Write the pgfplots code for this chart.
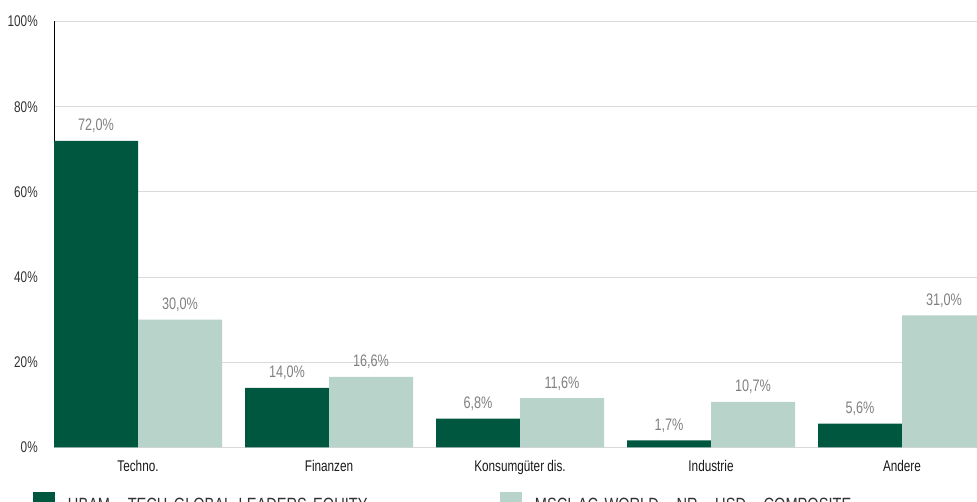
\documentclass[border=0pt]{standalone}
\usepackage{fontspec}
\setmainfont{Liberation Sans}[FakeStretch=0.76]
\usepackage{pgfplots}
\pgfplotsset{compat=1.18}
\definecolor{dark}{RGB}{0,87,63}
\definecolor{light}{RGB}{184,211,201}
\definecolor{gridc}{RGB}{217,217,217}
\definecolor{tickc}{RGB}{50,50,50}
\definecolor{valc}{RGB}{128,128,128}
\begin{document}
\begin{tikzpicture}
\useasboundingbox (0,0) rectangle (732.75pt,376.5pt);
\clip (0,0) rectangle (732.75pt,376.5pt);
\begin{axis}[
  at={(40.5pt,40.875pt)}, anchor=south west,
  scale only axis, width=692.25pt, height=319.5pt,
  ybar=0pt, bar width=63pt,
  xmin=-0.4398, xmax=4.3927, ymin=0, ymax=100,
  axis lines*=left, axis line style={-},
  x axis line style={draw=gridc, line width=0.75pt},
  y axis line style={draw=black, line width=0.75pt},
  ymajorgrids, grid style={draw=gridc, line width=0.75pt},
  major tick length=0pt,
  xtick={0,1,2,3,4},
  xticklabels={Techno.,Finanzen,Konsumgüter dis.,Industrie,Andere},
  ytick={0,20,40,60,80,100},
  yticklabels={0\%,20\%,40\%,60\%,80\%,100\%},
  /pgf/number format/assume math mode=true,
  tick label style={font=\fontsize{11.6}{13}\selectfont},
  xticklabel style={anchor=base, inner sep=0pt, yshift=-18pt, text=black!90},
  yticklabel style={anchor=east, inner sep=0pt, xshift=-12pt, text=tickc},
  nodes near coords={\pgfmathprintnumber[fixed,fixed zerofill,precision=1,use comma]{\pgfplotspointmeta}\%},
  every node near coord/.append style={font=\fontsize{12.5}{14}\selectfont, text=valc, anchor=base, inner sep=0pt, yshift=7.5pt},
  legend columns=2,
  legend style={at={(-0.02275,-0.104)}, anchor=north west, draw=none, fill=none,
    inner sep=0pt, outer sep=0pt, column sep=0pt,
    font=\fontsize{14.4}{17}\selectfont, text=tickc,
    nodes={inner sep=0pt, text width=324pt, align=left},
    /tikz/every odd column/.append style={column sep=9.75pt}},
  legend image code/.code={\fill[#1] (0pt,-5.76pt) rectangle (16.5pt,10.74pt);},
]
\addplot[draw=none, fill=dark] coordinates {(0,72.0) (1,14.0) (2,6.8) (3,1.7) (4,5.6)};
\addplot[draw=none, fill=light] coordinates {(0,30.0) (1,16.6) (2,11.6) (3,10.7) (4,31.0)};
\legend{UBAM - TECH GLOBAL LEADERS EQUITY, MSCI AC WORLD - NR - USD - COMPOSITE}
\end{axis}
\end{tikzpicture}
\end{document}
